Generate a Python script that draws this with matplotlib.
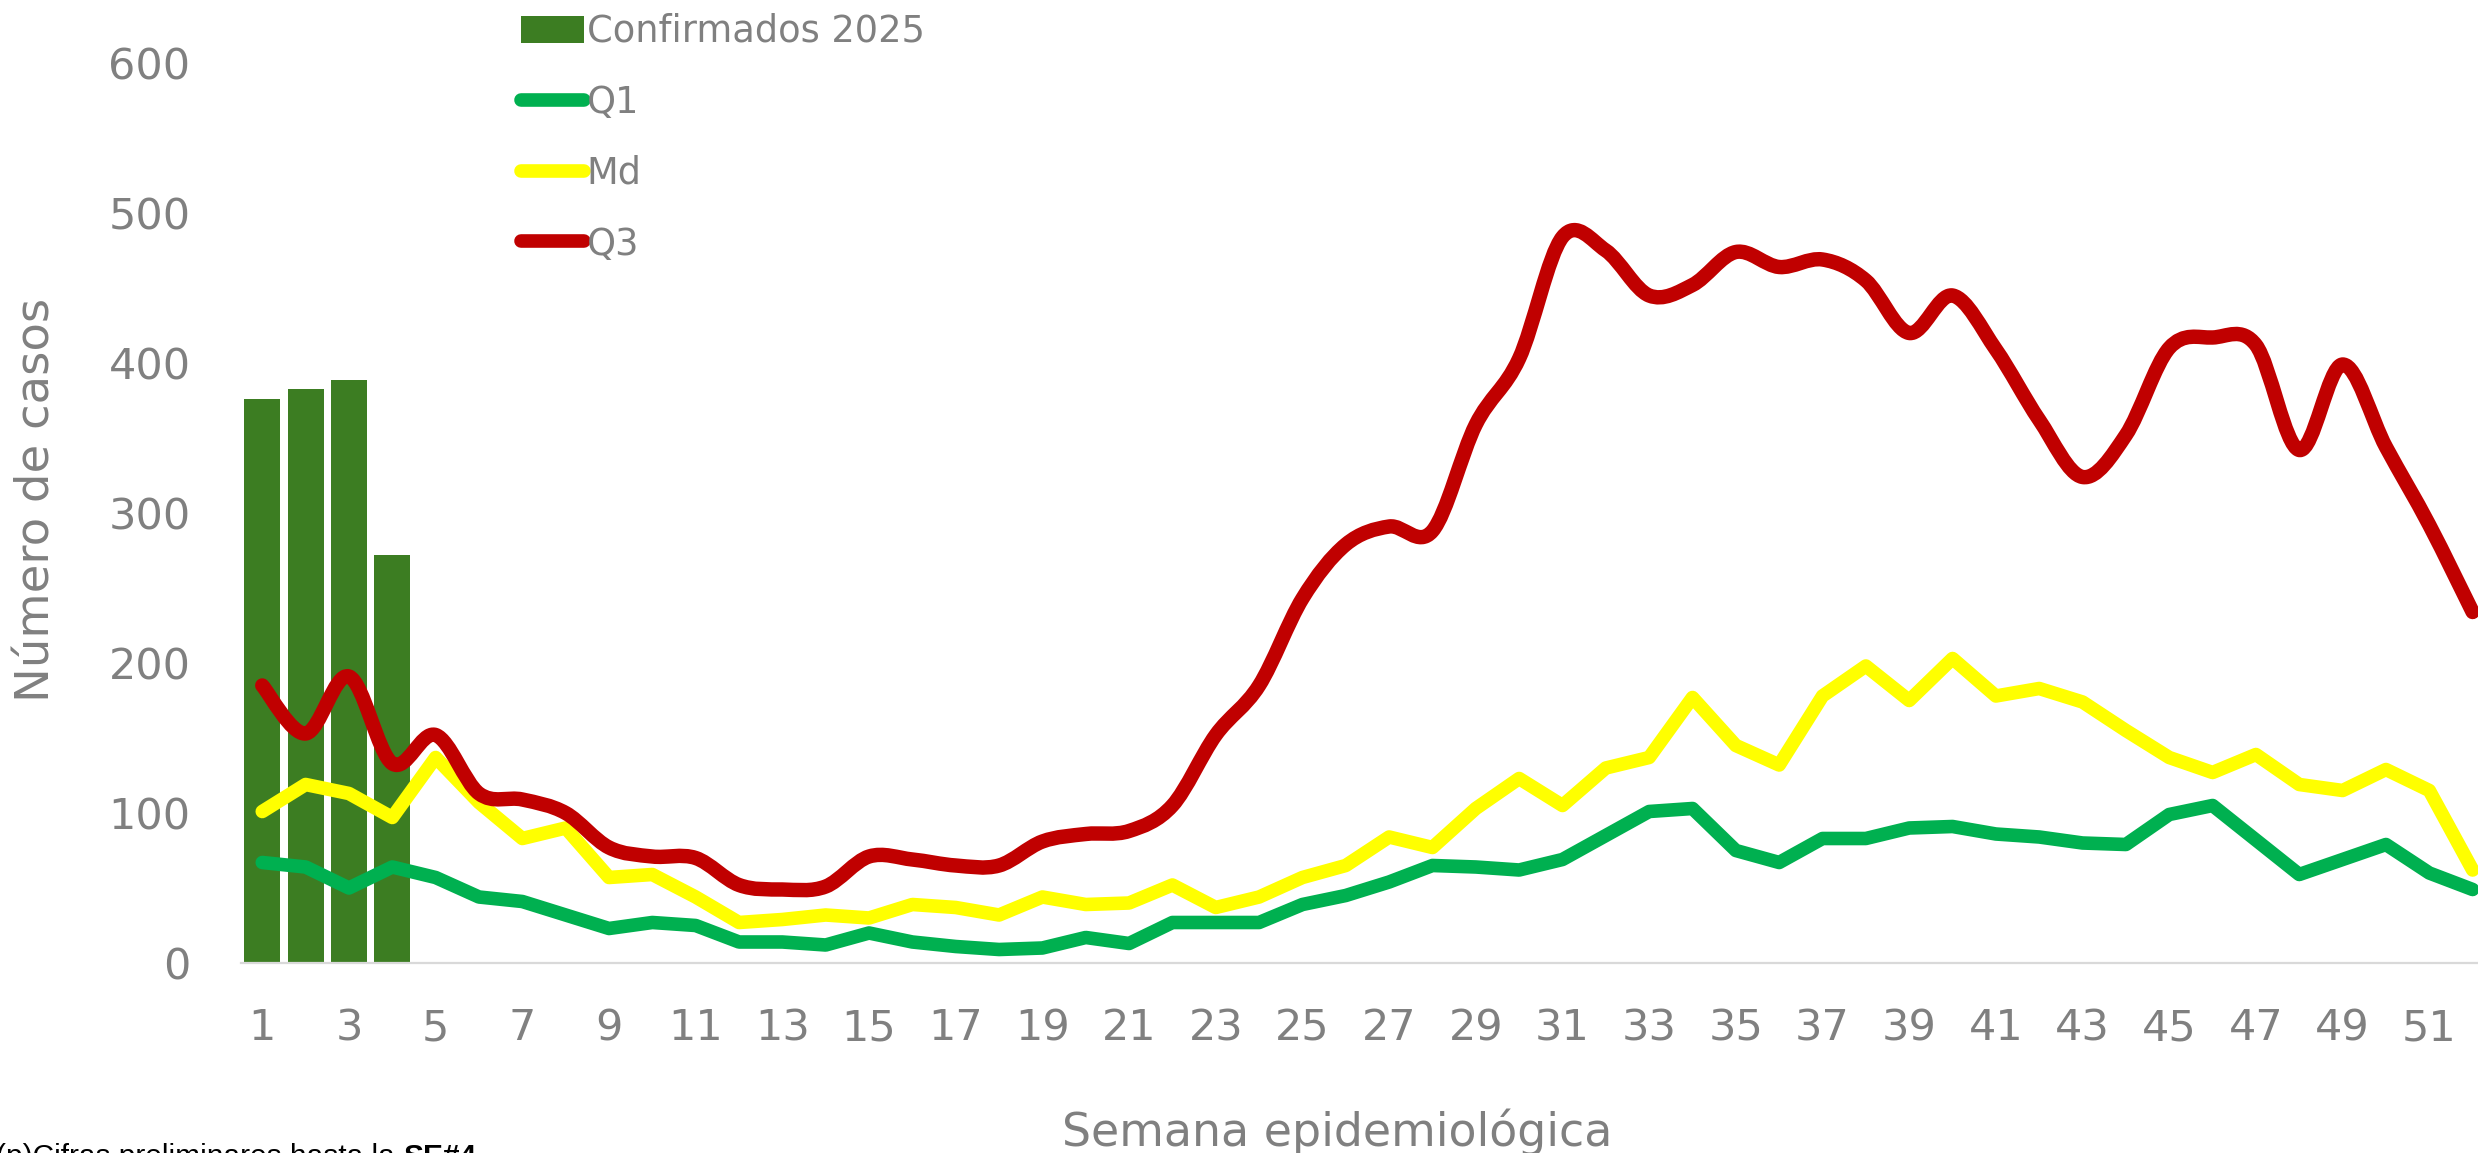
import matplotlib
matplotlib.use("Agg")
import matplotlib.pyplot as plt
from matplotlib.path import Path
from matplotlib.patches import PathPatch
from matplotlib.lines import Line2D
import numpy as np

# ---------------- data ----------------
weeks = list(range(1, 53))
confirmados_weeks = [1, 2, 3, 4]
confirmados_2025 = [376, 383, 389, 272]

q1 = [67, 64, 50, 64, 57, 44, 41, 32, 23, 27, 25, 14, 14, 12, 20, 14, 11, 9, 10, 17,
      13, 27, 27, 27, 39, 45, 54, 65, 64, 62, 69, 85, 101, 103, 75, 67, 83, 83, 90, 91,
      86, 84, 80, 79, 99, 105, 82, 59, 69, 79, 60, 49]

md = [101, 119, 113, 97, 137, 107, 83, 90, 57, 59, 44, 27, 29, 32, 30, 39, 37, 32, 44, 39,
      40, 52, 37, 44, 57, 65, 84, 77, 103, 123, 105, 130, 137, 177, 145, 132, 178, 198, 175, 203,
      178, 183, 174, 155, 137, 127, 139, 119, 115, 129, 115, 62]

q3 = [185, 153, 191, 133, 152, 113, 109, 100, 77, 71, 70, 52, 49, 51, 71, 69, 65, 65, 81, 86,
      88, 105, 152, 185, 243, 279, 291, 288, 359, 403, 484, 475, 445, 452, 474, 464, 469, 455, 420, 445,
      409, 362, 324, 352, 410, 417, 412, 342, 399, 344, 292, 234]

xtick_weeks = list(range(1, 53, 2))
xtick_labels = [str(w) for w in xtick_weeks]
ytick_values = [0, 100, 200, 300, 400, 500, 600]

labels = ["Confirmados 2025", "Q1", "Md", "Q3"]

# ---------------- style ----------------
C_BAR = "#3C7D22"
C_Q1 = "#00B050"
C_MD = "#FFFF00"
C_Q3 = "#C00000"
C_TXT = "#808080"
LW = 9.8

plt.rcParams["font.family"] = ["DejaVu Sans"]

W, H = 2478, 1153
fig = plt.figure(figsize=(W / 100, H / 100), dpi=100)
fig.patch.set_facecolor("white")

left_px, right_px = 240.6, 2494.3
zero_px, top_px = 963, 63
ax = fig.add_axes([left_px / W, (H - zero_px) / H,
                   (right_px - left_px) / W, (zero_px - top_px) / H])
ax.set_xlim(0.5, 52.5)
ax.set_ylim(0, 600)

# bars
bars = ax.bar(confirmados_weeks, confirmados_2025, width=0.83, color=C_BAR, zorder=1)

# straight lines
l1, = ax.plot(weeks, q1, color=C_Q1, lw=LW, solid_capstyle="round",
              solid_joinstyle="round", zorder=3)
l2, = ax.plot(weeks, md, color=C_MD, lw=LW, solid_capstyle="round",
              solid_joinstyle="round", zorder=4)


# smoothed line (Excel-like smoothing, Bezier through the data points)
def smooth_path(xs, ys):
    pts = np.column_stack([xs, ys]).astype(float)
    n = len(pts)
    verts = [tuple(pts[0])]
    codes = [Path.MOVETO]
    for i in range(n - 1):
        p0 = pts[i - 1] if i > 0 else pts[i]
        p1 = pts[i]
        p2 = pts[i + 1]
        p3 = pts[i + 2] if i + 2 < n else pts[i + 1]
        c1 = p1 + (p2 - p0) / 6.0
        c2 = p2 - (p3 - p1) / 6.0
        verts += [tuple(c1), tuple(c2), tuple(p2)]
        codes += [Path.CURVE4] * 3
    return Path(verts, codes)


q3_patch = PathPatch(smooth_path(weeks, q3), fill=False, edgecolor=C_Q3, lw=LW + 0.6,
                     capstyle="round", joinstyle="round", zorder=5,
                     transform=ax.transData)
ax.add_patch(q3_patch)

# axes styling
for s in ["top", "right", "left"]:
    ax.spines[s].set_visible(False)
ax.spines["bottom"].set_color("#D9D9D9")
ax.spines["bottom"].set_linewidth(1.6)
ax.set_xticks(xtick_weeks)
ax.set_xticklabels(xtick_labels)
ax.set_yticks(ytick_values)
ax.set_yticklabels([str(v) for v in ytick_values])
ax.tick_params(axis="both", length=0, colors=C_TXT, labelsize=31)
ax.tick_params(axis="y", pad=36)
ax.tick_params(axis="x", pad=32)

# axis titles
fig.text(37 / W, 1 - 500 / H, "Número de casos", rotation=90, ha="center",
         va="center", fontsize=33.5, color=C_TXT)
fig.text(1337 / W, (H - 1146) / H, "Semana epidemiológica", ha="center",
         va="baseline", fontsize=33, color=C_TXT)

# legend
q3_handle = Line2D([], [], color=C_Q3, lw=LW, solid_capstyle="round")
leg = fig.legend([bars, l1, l2, q3_handle], labels, loc="upper left",
                 bbox_to_anchor=(521 / W, 1 - 13 / H), frameon=False,
                 fontsize=26.5, labelcolor=C_TXT, handlelength=1.7,
                 handleheight=0.75, handletextpad=0.08, labelspacing=0.92,
                 borderpad=0, borderaxespad=0)

# footnote (mostly cut off at the bottom edge, as in the reference)
t1 = fig.text(-0.0015, -0.010, "(p)Cifras preliminares hasta la ", ha="left",
              va="baseline", fontsize=21.5, color="black", family="Liberation Sans")
fig.canvas.draw()
bb = t1.get_window_extent()
fig.text(bb.x1 / W, -0.010, "SE#4", fontsize=21.5, fontweight="bold",
         color="black", family="Liberation Sans", ha="left", va="baseline")

fig.savefig("out.png", dpi=100, facecolor="white")
